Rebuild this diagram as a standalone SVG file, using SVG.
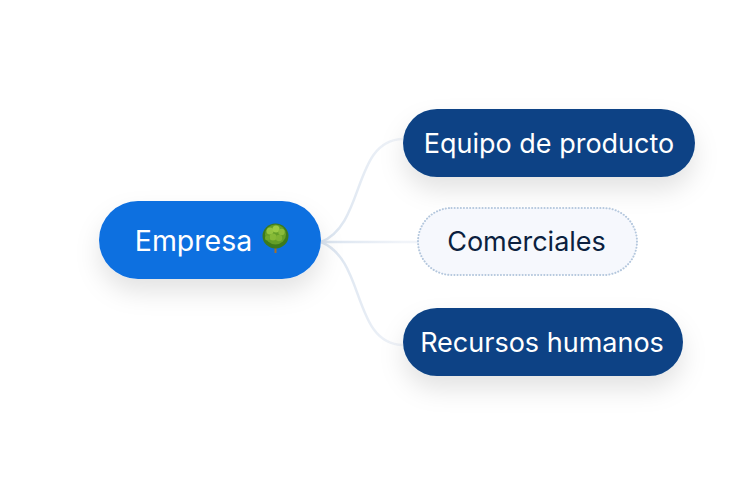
<svg xmlns="http://www.w3.org/2000/svg" width="736" height="485" viewBox="0 0 736 485">
<style>
text{font-family:Inter,"Noto Sans","Liberation Sans",sans-serif;font-size:27px;font-weight:400;text-anchor:middle}
.w{fill:#fff}.d{fill:#0b1f3f}
.c{fill:none;stroke:url(#g1);stroke-width:2.500}
</style>
<defs>
<filter id="s" x="-30%" y="-60%" width="160%" height="240%"><feDropShadow dx="0" dy="13" stdDeviation="12" flood-color="#1a1a1a" flood-opacity="0.11"/></filter>
<linearGradient id="g1" gradientUnits="userSpaceOnUse" x1="321" y1="0" x2="403" y2="0"><stop offset="0" stop-color="#d9e3ef"/><stop offset="1" stop-color="#f1f4f9"/></linearGradient>
</defs>
<rect width="736" height="485" fill="#fff"/>
<g id="connectors">
<path class="c" d="M321 242C366 224 352 140 403 139"/>
<path class="c" d="M321 242H418"/>
<path class="c" d="M321 242C366 260 352 344 403 345"/>
</g>
<g id="node-empresa">
<rect x="99" y="201" width="222" height="78" rx="39" fill="#0f6fe0" filter="url(#s)"/>
<text x="193.500" y="251" class="w" style="font-size:28.500px">Empresa</text>
<g id="tree">
<rect x="274.500" y="244" width="2" height="9" fill="#a5702a"/>
<ellipse cx="275.500" cy="236" rx="13" ry="12.500" fill="#3c7a1c"/>
<ellipse cx="275.500" cy="234.500" rx="10.500" ry="10" fill="#649f28"/>
<circle cx="270" cy="231" r="3.500" fill="#93c440"/>
<circle cx="276" cy="229" r="3.500" fill="#9ccb44"/>
<circle cx="281.500" cy="232" r="3.200" fill="#8abb3a"/>
<circle cx="273" cy="237" r="3.500" fill="#86b936"/>
<circle cx="279" cy="238" r="3.200" fill="#7fb233"/>
<circle cx="267.500" cy="238" r="2.500" fill="#6ea82c"/>
</g>
</g>
<g id="node-equipo">
<rect x="403" y="109" width="292" height="68" rx="34" fill="#0a4285" filter="url(#s)"/>
<text x="549" y="152.500" class="w">Equipo de producto</text>
</g>
<g id="node-comerciales">
<rect x="418" y="208" width="219" height="67" rx="33.500" fill="#f6f8fd" stroke="#b4c7dd" stroke-width="2" stroke-dasharray="0.100 3" stroke-linecap="round"/>
<text x="526.500" y="250.500" class="d">Comerciales</text>
</g>
<g id="node-recursos">
<rect x="403" y="308" width="280" height="68" rx="34" fill="#0a4285" filter="url(#s)"/>
<text x="542" y="351.500" class="w">Recursos humanos</text>
</g>
</svg>
